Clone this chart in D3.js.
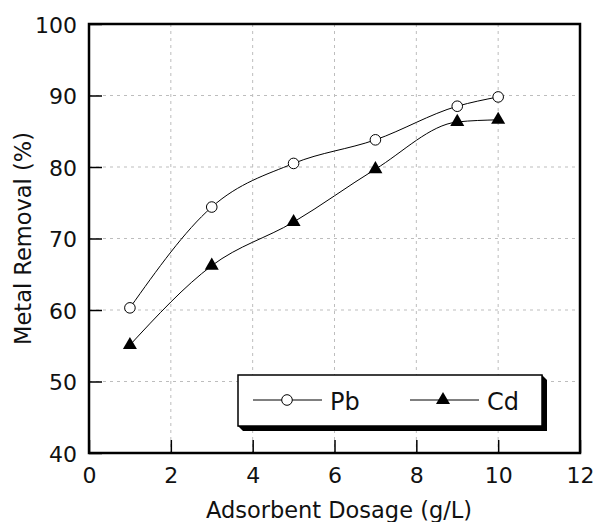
<!DOCTYPE html>
<html>
<head>
<meta charset="utf-8">
<script src="https://cdn.jsdelivr.net/npm/d3@7"></script>
<style>
  body { margin: 0; background: #fff; }
  svg { font-family: "DejaVu Sans", sans-serif; }
</style>
</head>
<body>
<svg></svg>
<script>
// Metal removal vs adsorbent dosage

// data
var dosage = [1, 3, 5, 7, 9, 10]
var pbRemoval = [60.3, 74.4, 80.5, 83.8, 88.5, 89.8]
var cdRemoval = [55.1, 66.2, 72.3, 79.7, 86.3, 86.6]
var xTicks = [0, 2, 4, 6, 8, 10, 12]
var yTicks = [40, 50, 60, 70, 80, 90, 100]

var canvasSize = {width: 595, height: 522}
var margin = {top: 24, right: 15, bottom: 69, left: 89},
    width = canvasSize.width - margin.left - margin.right,
    height = canvasSize.height - margin.top - margin.bottom

var svg = d3.select("svg")
    .attr("width", canvasSize.width)
    .attr("height", canvasSize.height)

var x = d3.scaleLinear().domain([0, 12]).range([0, width])
var y = d3.scaleLinear().domain([40, 100]).range([height, 0])

var view = svg.append("g")
    .attr("transform", `translate(${margin.left},${margin.top})`)

// dashed grid
view.append("g").selectAll("line")
    .data(xTicks.slice(1, -1))
    .enter().append("line")
        .attr("x1", d => x(d)).attr("x2", d => x(d))
        .attr("y1", 0).attr("y2", height)
        .attr("stroke", "#bdbdbd").attr("stroke-dasharray", "3,4")
view.append("g").selectAll("line")
    .data(yTicks.slice(1, -1))
    .enter().append("line")
        .attr("y1", d => y(d)).attr("y2", d => y(d))
        .attr("x1", 0).attr("x2", width)
        .attr("stroke", "#bdbdbd").attr("stroke-dasharray", "3,4")

// axes, ticks pointing inward
var xAxis = d3.axisBottom(x).tickValues(xTicks).tickSizeInner(-13).tickSizeOuter(0).tickPadding(14)
var yAxis = d3.axisLeft(y).tickValues(yTicks).tickSizeInner(-13).tickSizeOuter(0).tickPadding(12)

var xg = view.append("g").attr("transform", `translate(0,${height})`).call(xAxis)
var yg = view.append("g").call(yAxis)
;[xg, yg].forEach(g => {
    g.select(".domain").remove()
    g.selectAll(".tick line").attr("stroke", "#000").attr("stroke-width", 1.5)
    g.selectAll("text")
        .attr("fill", "#111")
        .style("font-family", "DejaVu Sans")
        .style("font-size", "22px")
})
yg.selectAll("text").attr("dy", "0.37em")

// frame
view.append("rect")
    .attr("width", width).attr("height", height)
    .attr("fill", "none").attr("stroke", "#000").attr("stroke-width", 2.5)

var line = (vals) => d3.line()
    .x((d, i) => x(dosage[i]))
    .y(d => y(d))
    .curve(d3.curveMonotoneX)(vals)

view.append("path").attr("d", line(pbRemoval))
    .attr("fill", "none").attr("stroke", "#000").attr("stroke-width", 1)
view.append("path").attr("d", line(cdRemoval))
    .attr("fill", "none").attr("stroke", "#000").attr("stroke-width", 1)

var tri = d3.symbol().type(d3.symbolTriangle).size(85)

view.selectAll(".pb")
    .data(pbRemoval)
    .enter().append("circle")
        .attr("class", "pb")
        .attr("cx", (d, i) => x(dosage[i]))
        .attr("cy", d => y(d))
        .attr("r", 5.3)
        .attr("fill", "#fff").attr("stroke", "#000").attr("stroke-width", 1)

view.selectAll(".cd")
    .data(cdRemoval)
    .enter().append("path")
        .attr("class", "cd")
        .attr("d", tri)
        .attr("transform", (d, i) => `translate(${x(dosage[i])},${y(d)})`)
        .attr("fill", "#000")

// axis titles
svg.append("text")
    .attr("x", 339).attr("y", 518)
    .attr("text-anchor", "middle")
    .style("font-size", "22.5px").attr("fill", "#111")
    .text("Adsorbent Dosage (g/L)")

svg.append("text")
    .attr("transform", `translate(31,${margin.top + height / 2}) rotate(-90)`)
    .attr("text-anchor", "middle")
    .style("font-size", "22.5px").attr("fill", "#111")
    .text("Metal Removal (%)")

// legend box with drop shadow
var legend = svg.append("g").attr("transform", "translate(238,375)")
var lw = 304, lh = 51, sh = 5
legend.append("path")
    .attr("d", `M0,${lh} L${sh},${lh + sh} L${lw + sh},${lh + sh} L${lw + sh},${sh} L${lw},0 Z`)
    .attr("fill", "#000")
legend.append("rect")
    .attr("width", lw).attr("height", lh)
    .attr("fill", "#fff").attr("stroke", "#000").attr("stroke-width", 1.5)

var items = [
    {name: "Pb", x0: 15, mark: "circle"},
    {name: "Cd", x0: 172, mark: "triangle"}
]
items.forEach(it => {
    var g = legend.append("g").attr("transform", `translate(${it.x0},25)`)
    g.append("line").attr("x1", 0).attr("x2", 69).attr("stroke", "#000").attr("stroke-width", 1)
    if (it.mark == "circle") {
        g.append("circle").attr("cx", 34).attr("r", 5.3)
            .attr("fill", "#fff").attr("stroke", "#000")
    } else {
        g.append("path").attr("d", tri).attr("transform", "translate(33,0)").attr("fill", "#000")
    }
    g.append("text").attr("x", 77).attr("y", 10)
        .style("font-size", "24px").attr("fill", "#111")
        .text(it.name)
})
</script>
</body>
</html>
